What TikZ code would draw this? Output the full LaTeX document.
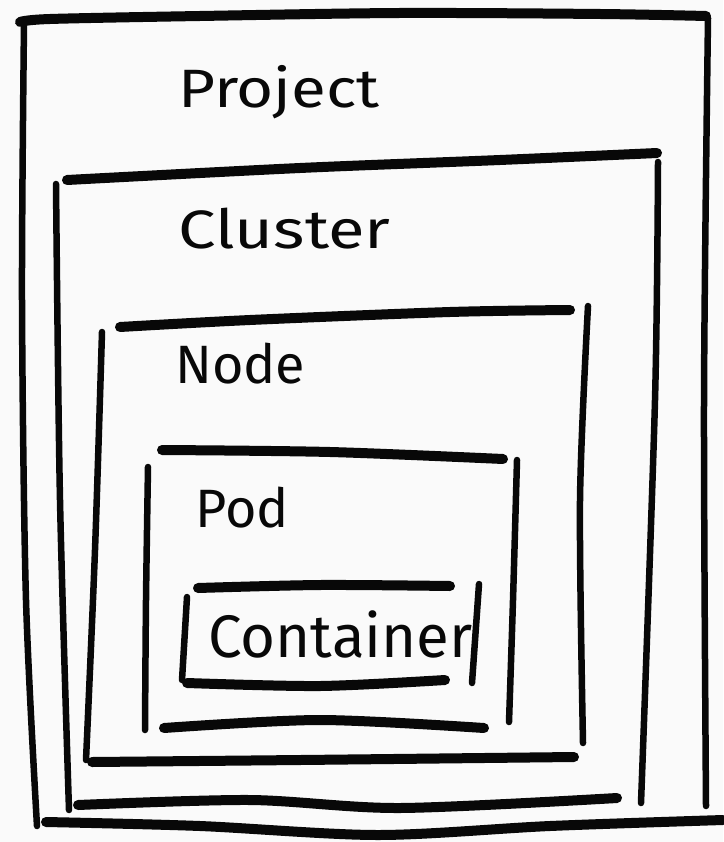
\documentclass[tikz,border=0pt]{standalone}
\usepackage{fontspec}
\setmainfont{Fira Sans}
\definecolor{paper}{RGB}{250,250,250}
\definecolor{ink}{RGB}{8,8,8}
\begin{document}
\begin{tikzpicture}[x=1pt,y=-1pt,
  hstroke/.style={draw=ink,line width=10pt,line cap=round,line join=round},
  vstroke/.style={draw=ink,line width=6.5pt,line cap=round,line join=round},
  label/.style={anchor=base west,inner sep=0pt,text=ink,font=\fontsize{54}{60}\selectfont}]
\fill[paper] (0,0) rectangle (723,842);
\useasboundingbox (0,0) rectangle (723,842);

% Project
\draw[hstroke] plot[smooth] coordinates {(20,22) (50,19) (200,16) (400,13) (600,14) (706,16)};
\draw[vstroke] plot[smooth] coordinates {(24,24) (22,300) (26,600) (37,826)};
\draw[vstroke] plot[smooth] coordinates {(708,18) (704,400) (706,806)};
\draw[hstroke] plot[smooth] coordinates {(46,822) (200,826) (378,835) (550,826) (723,820)};
\node[label,xscale=1.18] (project) at (178,108) {Project};

% Cluster
\draw[hstroke] plot[smooth] coordinates {(67,180) (300,168) (500,160) (657,153)};
\draw[vstroke] plot[smooth] coordinates {(56,184) (60,500) (69,810)};
\draw[vstroke] plot[smooth] coordinates {(658,162) (655,400) (641,803)};
\draw[hstroke] plot[smooth] coordinates {(78,805) (250,800) (400,808) (617,798)};
\node[label,xscale=1.24] (cluster) at (178,248) {Cluster};

% Node
\draw[hstroke] plot[smooth] coordinates {(120,327) (250,320) (450,312) (570,310)};
\draw[vstroke] plot[smooth] coordinates {(102,332) (95,550) (86,760)};
\draw[vstroke] plot[smooth] coordinates {(588,306) (580,500) (583,743)};
\draw[hstroke] plot[smooth] coordinates {(92,762) (300,760) (574,757)};
\node[label] (node) at (175,383) {Node};

% Pod
\draw[hstroke] plot[smooth] coordinates {(162,450) (330,452) (503,459)};
\draw[vstroke] plot[smooth] coordinates {(148,467) (146,600) (145,730)};
\draw[vstroke] plot[smooth] coordinates {(517,460) (513,600) (509,722)};
\draw[hstroke] plot[smooth] coordinates {(164,728) (320,720) (484,728)};
\node[label] (pod) at (195,527) {Pod};

% Container
\draw[hstroke] plot[smooth] coordinates {(198,588) (320,585) (450,586)};
\draw[vstroke] plot[smooth] coordinates {(187,597) (182,680)};
\draw[vstroke] plot[smooth] coordinates {(479,584) (472,683)};
\draw[hstroke] plot[smooth] coordinates {(187,683) (320,686) (445,680)};
\node[label,font=\fontsize{60}{66}\selectfont] (container) at (208,657) {Container};
\end{tikzpicture}
\end{document}
